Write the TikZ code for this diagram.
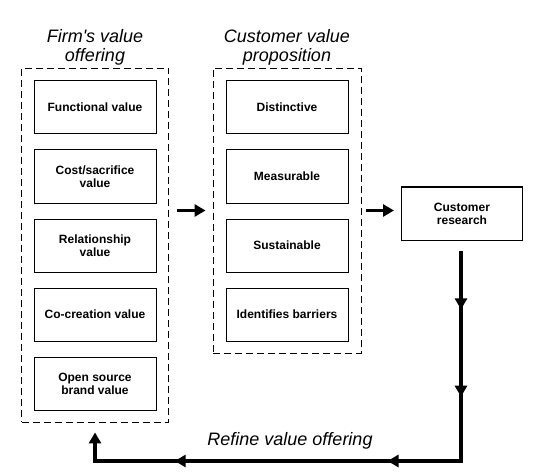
\documentclass[tikz,border=0pt]{standalone}
\usepackage{fontspec}
\setmainfont{Liberation Sans}
\usetikzlibrary{arrows.meta,decorations.markings}
\begin{document}
\begin{tikzpicture}[x=1pt,y=-1pt,
  itembox/.style={draw, line width=1pt, minimum width=122pt, minimum height=53pt,
    inner sep=2pt, align=center, font=\fontsize{12}{13}\selectfont\bfseries},
  container/.style={draw, dashed, dash pattern=on 7pt off 4pt, line width=0.9pt, inner sep=0pt},
  title/.style={align=center, font=\fontsize{18}{19}\selectfont\itshape},
  bigarrow/.style={line width=3.8pt, -{Triangle[width=12pt,length=11pt]}},
  fb/.style={line width=3.8pt, -{Triangle[width=12pt,length=11pt]}},
]
\useasboundingbox (0,0) rectangle (541,476);
\node[container, minimum width=147pt, minimum height=354pt] (L) at (95,245) {};
\node[container, minimum width=148pt, minimum height=285pt] (M) at (287,210.5) {};

\node[title] (tL) at (95,47) {Firm\textquotesingle s value\\offering};
\node[title] (tM) at (287,47) {Customer value\\proposition};

\node[itembox] (f1) at (95,107.5) {Functional value};
\node[itembox] (f2) at (95,176.5) {Cost/sacrifice\\value};
\node[itembox] (f3) at (95,245.5) {Relationship\\value};
\node[itembox] (f4) at (95,314.5) {Co-creation value};
\node[itembox] (f5) at (95,383.5) {Open source\\brand value};

\node[itembox] (p1) at (287,107.5) {Distinctive};
\node[itembox] (p2) at (287,176.5) {Measurable};
\node[itembox] (p3) at (287,245.5) {Sustainable};
\node[itembox] (p4) at (287,314.5) {Identifies barriers};

\node[itembox, minimum width=121pt] (CR) at (462,213.5) {Customer\\research};

\node[title] (rv) at (290,441) {Refine value offering};

\draw[bigarrow, shorten <=8pt, shorten >=7pt] (L.east |- M.west) -- (M.west);
\draw[bigarrow, shorten <=5pt, shorten >=7pt] (M.east) -- (M.east -| CR.west);

\coordinate (c1) at (461,461);
\coordinate (c2) at (95,461);
\draw[fb, shorten <=10pt,
  postaction={decorate, decoration={markings,
    mark=at position 0.112 with {\arrow{Triangle[width=12pt,length=11pt]}},
    mark=at position 0.254 with {\arrow{Triangle[width=12pt,length=11pt]}},
    mark=at position 0.478 with {\arrow{Triangle[width=12pt,length=11pt]}},
    mark=at position 0.824 with {\arrow{Triangle[width=12pt,length=11pt]}}}}]
  (CR.south -| c1) -- (c1) -- (c2) -- ([yshift=-10pt]L.south);
\end{tikzpicture}
\end{document}
